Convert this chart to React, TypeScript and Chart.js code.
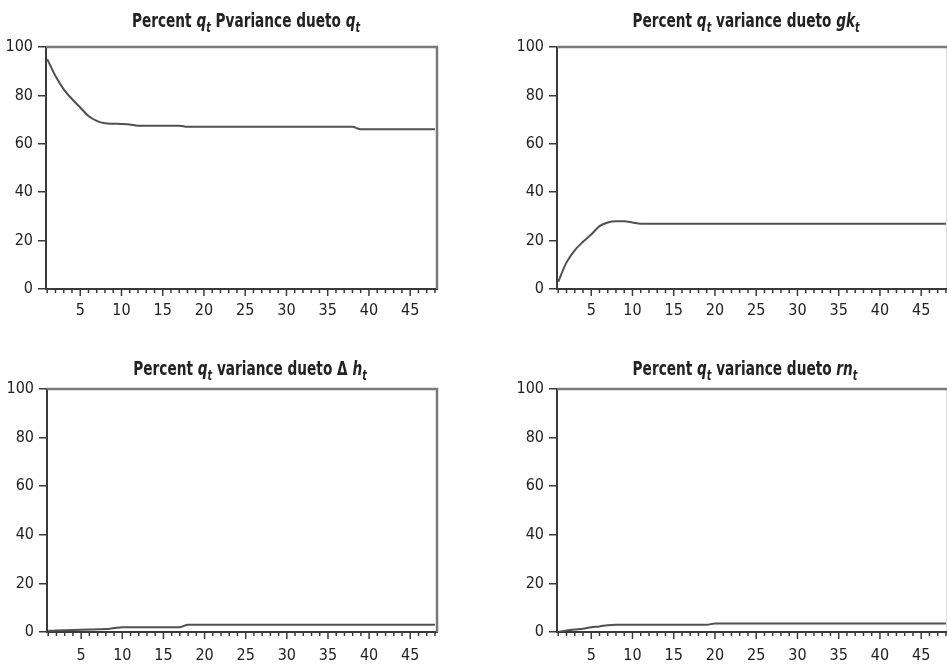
import { useEffect, useRef } from "react";
import { Chart, registerables } from "chart.js";

Chart.register(...registerables);

// ---------- data ----------
const PERIODS = [
  1, 2, 3, 4, 5, 6, 7, 8, 9, 10, 11, 12, 13, 14, 15, 16, 17, 18, 19, 20, 21, 22, 23, 24,
  25, 26, 27, 28, 29, 30, 31, 32, 33, 34, 35, 36, 37, 38, 39, 40, 41, 42, 43, 44, 45, 46, 47, 48,
];
const X_LABELS = [5, 10, 15, 20, 25, 30, 35, 40, 45];
const Y_TICKS = [0, 20, 40, 60, 80, 100];

const SHARE_Q = [
  95, 88, 82.5, 78.5, 75, 71.5, 69.5, 68.5, 68.3, 68.2, 68,
  67.5, 67.5, 67.5, 67.5, 67.5, 67.5,
  67, 67, 67, 67, 67, 67, 67, 67, 67, 67, 67, 67, 67, 67, 67, 67, 67, 67, 67, 67, 67,
  66, 66, 66, 66, 66, 66, 66, 66, 66, 66,
];
const SHARE_GK = [
  3, 11, 16, 19.5, 22.5, 26, 27.5, 28, 28, 27.5,
  27, 27, 27, 27, 27, 27, 27, 27, 27, 27, 27, 27, 27, 27, 27, 27, 27, 27, 27,
  27, 27, 27, 27, 27, 27, 27, 27, 27, 27, 27, 27, 27, 27, 27, 27, 27, 27, 27,
];
const SHARE_DH = [
  0.5, 0.6, 0.7, 0.8, 0.9, 1, 1.1, 1.2, 1.6,
  2, 2, 2, 2, 2, 2, 2, 2,
  3, 3, 3, 3, 3, 3, 3, 3, 3, 3, 3, 3, 3, 3, 3, 3, 3, 3, 3, 3, 3, 3, 3, 3, 3, 3, 3, 3, 3, 3, 3,
];
const SHARE_RN = [
  0, 0.6, 1, 1.3, 2, 2.3, 2.8,
  3, 3, 3, 3, 3, 3, 3, 3, 3, 3, 3, 3,
  3.5, 3.5, 3.5, 3.5, 3.5, 3.5, 3.5, 3.5, 3.5, 3.5, 3.5, 3.5, 3.5, 3.5, 3.5, 3.5,
  3.5, 3.5, 3.5, 3.5, 3.5, 3.5, 3.5, 3.5, 3.5, 3.5, 3.5, 3.5, 3.5,
];

// title segments: [text, kind] kind: "" normal bold, "i" italic, "s" subscript
type Seg = [string, string];
const TITLE_Q: Seg[] = [["Percent ", ""], ["q", "i"], ["t", "s"], [" Pvariance dueto ", ""], ["q", "i"], ["t", "s"]];
const TITLE_GK: Seg[] = [["Percent ", ""], ["q", "i"], ["t", "s"], [" variance dueto ", ""], ["gk", "i"], ["t", "s"]];
const TITLE_DH: Seg[] = [["Percent ", ""], ["q", "i"], ["t", "s"], [" variance dueto \u0394 ", ""], ["h", "i"], ["t", "s"]];
const TITLE_RN: Seg[] = [["Percent ", ""], ["q", "i"], ["t", "s"], [" variance dueto ", ""], ["rn", "i"], ["t", "s"]];

// ---------- styles / layout ----------
const FONT = "'DejaVu Sans Condensed','Liberation Sans Narrow',sans-serif";
const LINE_COLOR = "#505050";
const AXIS_COLOR = "#3a3a3a";
const FRAME_COLOR = "#7a7a7a";
const TEXT_COLOR = "#222222";

type Panel = {
  values: number[];
  title: Seg[];
  left: number; top: number; width: number; height: number;
  areaLeft: number; areaTop: number; areaRight: number; areaBottom: number;
  titleX: number; titleBase: number; labelPad: number;
};

const PANELS: Panel[] = [
  { values: SHARE_Q, title: TITLE_Q, left: 0, top: 0, width: 470, height: 335,
    areaLeft: 46, areaTop: 47, areaRight: 437, areaBottom: 289, titleX: 246, titleBase: 27, labelPad: 12 },
  { values: SHARE_GK, title: TITLE_GK, left: 480, top: 0, width: 470, height: 335,
    areaLeft: 77, areaTop: 47, areaRight: 468, areaBottom: 289, titleX: 266, titleBase: 27, labelPad: 12 },
  { values: SHARE_DH, title: TITLE_DH, left: 0, top: 335, width: 470, height: 330,
    areaLeft: 47, areaTop: 54, areaRight: 437, areaBottom: 297, titleX: 250, titleBase: 40, labelPad: 14 },
  { values: SHARE_RN, title: TITLE_RN, left: 480, top: 335, width: 470, height: 330,
    areaLeft: 77, areaTop: 54, areaRight: 468, areaBottom: 297, titleX: 265, titleBase: 40, labelPad: 14 },
];

function drawTitle(ctx: CanvasRenderingContext2D, segs: Seg[], cx: number, base: number) {
  const SX = 0.76;
  const fontFor = (k: string) =>
    k === "s" ? `italic bold 14px ${FONT}` : k === "i" ? `italic bold 20px ${FONT}` : `bold 20px ${FONT}`;
  let total = 0;
  const widths = segs.map(([t, k]) => {
    ctx.font = fontFor(k);
    const w = ctx.measureText(t).width;
    total += w;
    return w;
  });
  ctx.save();
  ctx.translate(cx - (total * SX) / 2, base);
  ctx.scale(SX, 1);
  ctx.fillStyle = TEXT_COLOR;
  ctx.textBaseline = "alphabetic";
  ctx.textAlign = "left";
  let x = 0;
  segs.forEach(([t, k], i) => {
    ctx.font = fontFor(k);
    ctx.fillText(t, x, k === "s" ? 5 : 0);
    x += widths[i];
  });
  ctx.restore();
}

function PanelChart({ p }: { p: Panel }) {
  const ref = useRef<HTMLCanvasElement | null>(null);
  useEffect(() => {
    if (!ref.current) return;
    const framePlugin = {
      id: "frame" + p.left + "_" + p.top,
      afterDraw(chart: any) {
        const { ctx, chartArea } = chart;
        const xs = chart.scales.x;
        ctx.save();
        ctx.strokeStyle = FRAME_COLOR;
        ctx.lineWidth = 2.5;
        ctx.beginPath();
        ctx.moveTo(chartArea.left, chartArea.top);
        ctx.lineTo(chartArea.right, chartArea.top);
        ctx.lineTo(chartArea.right, chartArea.bottom);
        ctx.stroke();
        ctx.strokeStyle = AXIS_COLOR;
        ctx.lineWidth = 1.5;
        PERIODS.forEach((v) => {
          const x = xs.getPixelForValue(v);
          ctx.beginPath();
          ctx.moveTo(x, chartArea.bottom - 1);
          ctx.lineTo(x, chartArea.bottom + (v % 5 === 0 ? 7 : 4));
          ctx.stroke();
        });
        ctx.restore();
        drawTitle(ctx, p.title, p.titleX, p.titleBase);
      },
    };
    const chart = new Chart(ref.current, {
      type: "line",
      data: {
        datasets: [
          {
            data: PERIODS.map((x, i) => ({ x, y: p.values[i] })),
            borderColor: LINE_COLOR,
            borderWidth: 2,
            pointRadius: 0,
            fill: false,
            cubicInterpolationMode: "monotone",
          },
        ],
      },
      options: {
        animation: false,
        responsive: false,
        events: [],
        layout: {
          padding: { left: 0, top: p.areaTop, right: p.width - p.areaRight, bottom: 0 },
        },
        plugins: { legend: { display: false }, title: { display: false }, tooltip: { enabled: false } },
        scales: {
          x: {
            type: "linear",
            min: 0.85,
            max: 48.25,
            afterBuildTicks: (s: any) => {
              s.ticks = X_LABELS.map((v) => ({ value: v }));
            },
            afterFit: (s: any) => {
              s.height = p.height - p.areaBottom;
            },
            grid: { display: false, drawTicks: false },
            border: { display: true, color: AXIS_COLOR, width: 2 },
            ticks: {
              autoSkip: false,
              maxRotation: 0,
              padding: p.labelPad,
              color: TEXT_COLOR,
              font: { family: FONT, size: 16 },
            },
          },
          y: {
            type: "linear",
            min: 0,
            max: 100,
            afterBuildTicks: (s: any) => {
              s.ticks = Y_TICKS.map((v) => ({ value: v }));
            },
            afterFit: (s: any) => {
              s.width = p.areaLeft;
            },
            grid: { drawOnChartArea: false, drawTicks: true, tickLength: 8, color: AXIS_COLOR, lineWidth: 1.5 },
            border: { display: true, color: AXIS_COLOR, width: 2 },
            ticks: {
              padding: 5,
              color: TEXT_COLOR,
              font: { family: FONT, size: 16 },
            },
          },
        },
      },
      plugins: [framePlugin],
    } as any);
    return () => chart.destroy();
  }, [p]);
  return (
    <canvas
      ref={ref}
      width={p.width}
      height={p.height}
      style={{ position: "absolute", left: p.left, top: p.top, width: p.width, height: p.height }}
    />
  );
}

export default function App() {
  return (
    <div
      style={{
        position: "fixed",
        left: 0,
        top: 0,
        width: 947,
        height: 665,
        overflow: "hidden",
        background: "#ffffff",
      }}
    >
      {PANELS.map((p, i) => (
        <PanelChart key={i} p={p} />
      ))}
    </div>
  );
}
